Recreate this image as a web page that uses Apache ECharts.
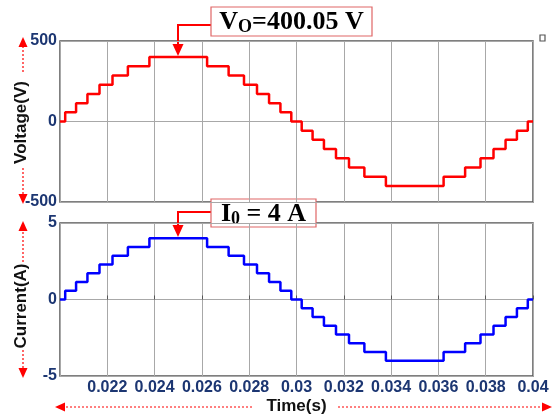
<!DOCTYPE html>
<html lang="en">
<head>
    <meta charset="UTF-8">
    <title>Voltage and current</title>
    <script src="https://cdn.jsdelivr.net/npm/echarts@6/dist/echarts.min.js"></script>
    <style>
        html, body { margin: 0; padding: 0; background: #fff; }
    </style>
</head>
<body>
<div id="main" style="width: 559px;height: 418px;"></div>
<script type="text/javascript">
    // switching instants of the staircase (s)
    var stepTimes = [0.02, 0.02022, 0.02068, 0.02116, 0.02167, 0.02222, 0.02287, 0.02378,
        0.02622, 0.02713, 0.02778, 0.02833, 0.02884, 0.02932, 0.02978,
        0.03022, 0.03068, 0.03116, 0.03167, 0.03222, 0.03287, 0.03378,
        0.03622, 0.03713, 0.03778, 0.03833, 0.03884, 0.03932, 0.03978, 0.04];
    // level held from each instant on
    var voltage = [0, 57, 114, 171, 229, 286, 343, 400,
        343, 286, 229, 171, 114, 57, 0,
        -57, -114, -171, -229, -286, -343, -400,
        -343, -286, -229, -171, -114, -57, 0, 0];
    var current = [0, 0.57, 1.14, 1.71, 2.29, 2.86, 3.43, 4.0,
        3.43, 2.86, 2.29, 1.71, 1.14, 0.57, 0,
        -0.57, -1.14, -1.71, -2.29, -2.86, -3.43, -4.0,
        -3.43, -2.86, -2.29, -1.71, -1.14, -0.57, 0, 0];
    var timeTicks = [0.022, 0.024, 0.026, 0.028, 0.03, 0.032, 0.034, 0.036, 0.038, 0.04];

    function pairs(ys) {
        var out = [];
        for (var i = 0; i < stepTimes.length; i++) {
            out.push([stepTimes[i], ys[i]]);
        }
        return out;
    }

    var tickColor = '#1c3672';
    var red = '#ff0000';

    function xAxisFor(gridIndex, withLabels) {
        return {
            type: 'value',
            gridIndex: gridIndex,
            min: 0.02,
            max: 0.04,
            interval: 0.002,
            axisLine: {show: false},
            axisTick: {show: withLabels, inside: true, length: 4, lineStyle: {color: '#555'}},
            splitLine: {lineStyle: {color: '#a8a8a8', width: 1}},
            axisLabel: {
                show: withLabels,
                showMinLabel: false,
                margin: 4,
                color: tickColor,
                fontFamily: 'Liberation Sans',
                fontWeight: 'bold',
                fontSize: 16,
                formatter: function (v) {
                    var s = String(+v.toFixed(3));
                    return timeTicks.indexOf(+s) >= 0 ? s : '';
                }
            }
        };
    }

    function yAxisFor(gridIndex, lim, step, name, pad) {
        return {
            type: 'value',
            gridIndex: gridIndex,
            min: -lim,
            max: lim,
            interval: step,
            name: name,
            nameLocation: 'middle',
            nameGap: 30,
            nameMoveOverlap: false,
            nameTextStyle: {
                color: '#111',
                fontFamily: 'Liberation Sans',
                fontWeight: 'bold',
                fontSize: 17,
                padding: pad
            },
            axisLine: {show: false},
            axisTick: {show: false},
            splitLine: {lineStyle: {color: '#a8a8a8', width: 1}},
            axisLabel: {
                margin: 3,
                color: tickColor,
                fontFamily: 'Liberation Sans',
                fontWeight: 'bold',
                fontSize: 16
            }
        };
    }

    function dashedArrow(x1, y1, x2, y2) {
        // dotted shaft plus solid head, pointing at (x2, y2)
        var dx = x2 - x1, dy = y2 - y1;
        var len = Math.sqrt(dx * dx + dy * dy);
        var ux = dx / len, uy = dy / len;
        var bx = x2 - ux * 10, by = y2 - uy * 10;
        return [{
            type: 'line',
            shape: {x1: x1, y1: y1, x2: bx, y2: by},
            style: {stroke: red, lineWidth: 1.2, lineDash: [2, 2]}
        }, {
            type: 'polygon',
            shape: {points: [[x2, y2], [bx - uy * 4.5, by + ux * 4.5], [bx + uy * 4.5, by - ux * 4.5]]},
            style: {fill: red}
        }];
    }

    function callout(boxX, boxY, boxW, boxH, armY, tipX, tipY, rich, text) {
        return [{
            type: 'polyline',
            shape: {points: [[boxX, armY], [tipX, armY], [tipX, tipY - 11]]},
            style: {stroke: red, lineWidth: 2, fill: null}
        }, {
            type: 'polygon',
            shape: {points: [[tipX - 5.5, tipY - 12], [tipX + 5.5, tipY - 12], [tipX, tipY]]},
            style: {fill: red}
        }, {
            type: 'rect',
            shape: {x: boxX, y: boxY, width: boxW, height: boxH},
            style: {fill: '#fff', stroke: '#e06666', lineWidth: 1.2}
        }, {
            type: 'text',
            x: boxX + boxW / 2,
            y: boxY + boxH / 2 + 1,
            style: {
                text: text,
                rich: rich,
                align: 'center',
                verticalAlign: 'middle'
            }
        }];
    }

    var serifMain = {fontFamily: 'Liberation Serif', fontWeight: 'bold', fontSize: 26, color: '#111', lineHeight: 28};
    var serifSub = {fontFamily: 'Liberation Serif', fontWeight: 'bold', fontSize: 18, color: '#111',
        lineHeight: 28, verticalAlign: 'bottom', padding: [12, 0, 0, 0]};

    var graphics = []
        .concat(dashedArrow(23, 72, 23, 37))
        .concat(dashedArrow(23, 168, 23, 204))
        .concat(dashedArrow(23, 262, 23, 221))
        .concat(dashedArrow(23, 350, 23, 378))
        .concat(dashedArrow(252, 407, 55, 407))
        .concat(dashedArrow(338, 407, 552, 407))
        .concat(callout(211, 7, 161, 29, 25, 178, 56,
            {m: serifMain, s: serifSub}, '{m|V}{s|O}{m|=400.05 V}'))
        .concat(callout(211, 199, 105, 28, 212, 178, 237,
            {m: serifMain, s: serifSub}, '{m|I}{s|0}{m| = 4 A}'))
        .concat([{
            type: 'rect',
            shape: {x: 540, y: 35, width: 5, height: 6},
            style: {fill: '#fff', stroke: '#555', lineWidth: 1.2}
        }]);

    var myChart = echarts.init(document.getElementById('main'));
    var option = {
        animation: false,
        backgroundColor: '#fff',
        grid: [
            {left: 60, right: 26, top: 41, height: 161, show: true, borderColor: '#555', borderWidth: 1.5},
            {left: 60, right: 26, top: 223, height: 153, show: true, borderColor: '#555', borderWidth: 1.5}
        ],
        xAxis: [
            xAxisFor(0, false),
            Object.assign(xAxisFor(1, true), {
                name: 'Time(s)',
                nameLocation: 'middle',
                nameGap: 22,
                nameMoveOverlap: false,
                nameTextStyle: {color: '#111', fontFamily: 'Liberation Sans', fontWeight: 'bold', fontSize: 17}
            })
        ],
        yAxis: [
            yAxisFor(0, 500, 500, 'Voltage(V)', [0, 2, 0, 0]),
            yAxisFor(1, 5, 5, 'Current(A)', [0, 13, 0, 0])
        ],
        series: [{
            name: 'Voltage',
            type: 'line',
            step: 'end',
            xAxisIndex: 0,
            yAxisIndex: 0,
            showSymbol: false,
            data: pairs(voltage),
            lineStyle: {color: red, width: 2.5}
        }, {
            name: 'Current',
            type: 'line',
            step: 'end',
            xAxisIndex: 1,
            yAxisIndex: 1,
            showSymbol: false,
            data: pairs(current),
            lineStyle: {color: '#0000ff', width: 2.5}
        }],
        graphic: graphics
    };
    myChart.setOption(option);
</script>
</body>
</html>
